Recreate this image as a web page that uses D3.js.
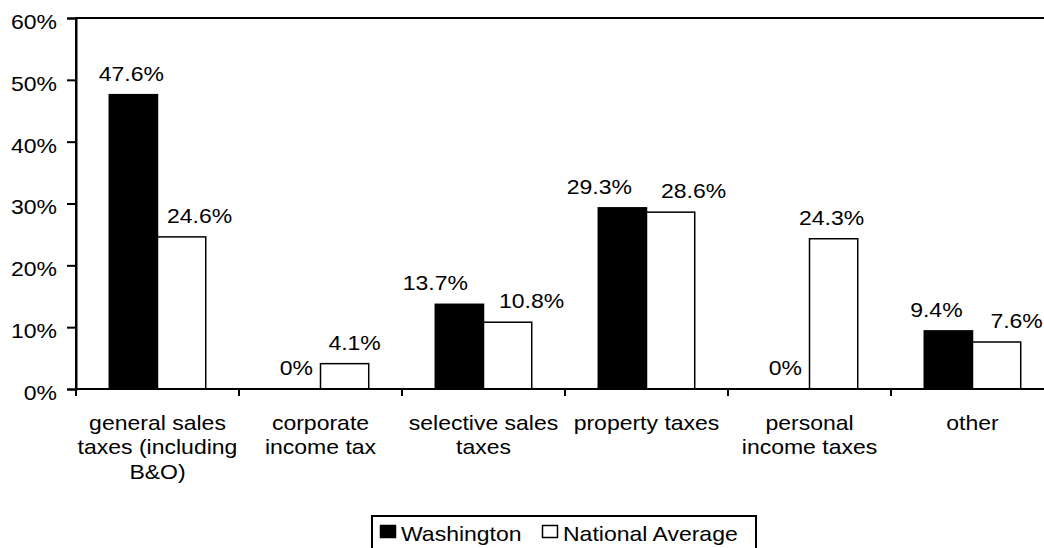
<!DOCTYPE html>
<html>
<head>
<meta charset="utf-8">
<script src="https://cdn.jsdelivr.net/npm/d3@7"></script>
<style>
  body { margin: 0; background: #fff; }
  svg { display: block; font-family: "Liberation Sans", Arial, sans-serif; }
</style>
</head>
<body>
<div class="d3-wrapper"></div>
<script>
// Chart values
const categories = [
  ['general sales', 'taxes (including', 'B&O)'],
  ['corporate', 'income tax'],
  ['selective sales', 'taxes'],
  ['property taxes'],
  ['personal', 'income taxes'],
  ['other']
];
const seriesNames = ['Washington', 'National Average'];
const washington = [47.6, 0, 13.7, 29.3, 0, 9.4];
const nationalAvg = [24.6, 4.1, 10.8, 28.6, 24.3, 7.6];
const yTicks = [0, 10, 20, 30, 40, 50, 60];

// Layout: horizontal nudges of the data labels (px), per series
const labelNudge = [
  [-2, 0, -24, -23, 0, -12],
  [18, 10, 24, 23, -2, 20]
];

const WIDTH = 1044, HEIGHT = 548;
const PLOT = { left: 76, right: 1054, top: 18, bottom: 389 };
const FONT = 20;
const STRETCH = 1.15; // the reference text is drawn slightly wide

const svg = d3.select('.d3-wrapper').append('svg')
  .attr('width', WIDTH)
  .attr('height', HEIGHT);

// place text at (x, y) stretched horizontally around its anchor
const stretch = (sel, x, y) => sel
  .attr('transform', (d, i) => `translate(${typeof x === 'function' ? x(d, i) : x},${typeof y === 'function' ? y(d, i) : y}) scale(${STRETCH},1)`)
  .attr('x', 0)
  .attr('y', 0);

const x0 = d3.scaleBand()
  .domain(d3.range(categories.length))
  .range([PLOT.left, PLOT.right]);
const x1 = d3.scaleBand()
  .domain([0, 1])
  .range([0, x0.bandwidth()])
  .paddingOuter(0.69);
const y = d3.scaleLinear().domain([0, 60]).range([PLOT.bottom, PLOT.top]);

// plot area border (right side falls outside the picture)
svg.append('rect')
  .attr('x', PLOT.left)
  .attr('y', PLOT.top)
  .attr('width', PLOT.right - PLOT.left)
  .attr('height', PLOT.bottom - PLOT.top)
  .attr('fill', 'none')
  .attr('stroke', '#000')
  .attr('stroke-width', 2);

const series = [washington, nationalAvg];
const fills = ['#000', '#fff'];

series.forEach((vals, s) => {
  svg.append('g').selectAll('rect')
    .data(vals)
    .enter()
    .append('rect')
    .attr('x', (d, i) => x0(i) + x1(s))
    .attr('y', d => y(d))
    .attr('width', x1.bandwidth())
    .attr('height', d => y(0) - y(d))
    .attr('fill', fills[s])
    .attr('stroke', d => d > 0 ? '#000' : 'none')
    .attr('stroke-width', 1.5);

  svg.append('g').selectAll('text')
    .data(vals)
    .enter()
    .append('text')
    .attr('text-anchor', 'middle')
    .attr('font-size', FONT)
    .text(d => d + '%')
    .call(stretch,
      (d, i) => x0(i) + x1(s) + x1.bandwidth() / 2 + labelNudge[s][i],
      d => y(d) - 14);
});

// y axis
const yAxis = d3.axisLeft(y)
  .tickValues(yTicks)
  .tickSize(9)
  .tickPadding(10)
  .tickFormat(d => d + '%');
const yg = svg.append('g')
  .attr('transform', `translate(${PLOT.left},0)`)
  .call(yAxis);
yg.select('.domain').attr('stroke-width', 2);
yg.selectAll('.tick line').attr('stroke-width', 2);
yg.selectAll('.tick text')
  .attr('font-size', FONT)
  .attr('font-family', null)
  .attr('fill', '#000')
  .attr('dy', '0.52em')
  .attr('transform', `translate(-19,0) scale(${STRETCH},1)`)
  .attr('x', 0);

// x axis: ticks at category boundaries
const xg = svg.append('g')
  .attr('transform', `translate(0,${PLOT.bottom})`);
xg.append('line')
  .attr('x1', PLOT.left).attr('x2', PLOT.right)
  .attr('stroke', '#000').attr('stroke-width', 2);
xg.selectAll('.xtick')
  .data(d3.range(categories.length + 1))
  .enter()
  .append('line')
  .attr('x1', i => PLOT.left + i * x0.step())
  .attr('x2', i => PLOT.left + i * x0.step())
  .attr('y1', 0).attr('y2', 7)
  .attr('stroke', '#000').attr('stroke-width', 2);

const labels = xg.selectAll('.xlabel')
  .data(categories)
  .enter()
  .append('text')
  .attr('text-anchor', 'middle')
  .attr('font-size', FONT)
  .call(stretch, (d, i) => x0(i) + x0.bandwidth() / 2, 41);
labels.selectAll('tspan')
  .data(d => d)
  .enter()
  .append('tspan')
  .attr('x', 0)
  .attr('dy', (d, i) => i === 0 ? 0 : 24.5)
  .text(d => d);

// legend
const legend = svg.append('g');
legend.append('rect')
  .attr('x', 372).attr('y', 516)
  .attr('width', 384).attr('height', 50)
  .attr('fill', '#fff')
  .attr('stroke', '#000')
  .attr('stroke-width', 2);
const legendX = [380, 542];
seriesNames.forEach((name, s) => {
  legend.append('rect')
    .attr('x', legendX[s] + 0.5).attr('y', 525.5)
    .attr('width', 15).attr('height', 12)
    .attr('fill', fills[s])
    .attr('stroke', '#000')
    .attr('stroke-width', 1.5);
  legend.append('text')
    .attr('font-size', FONT)
    .text(name)
    .call(stretch, legendX[s] + 21, 541);
});
</script>
</body>
</html>
